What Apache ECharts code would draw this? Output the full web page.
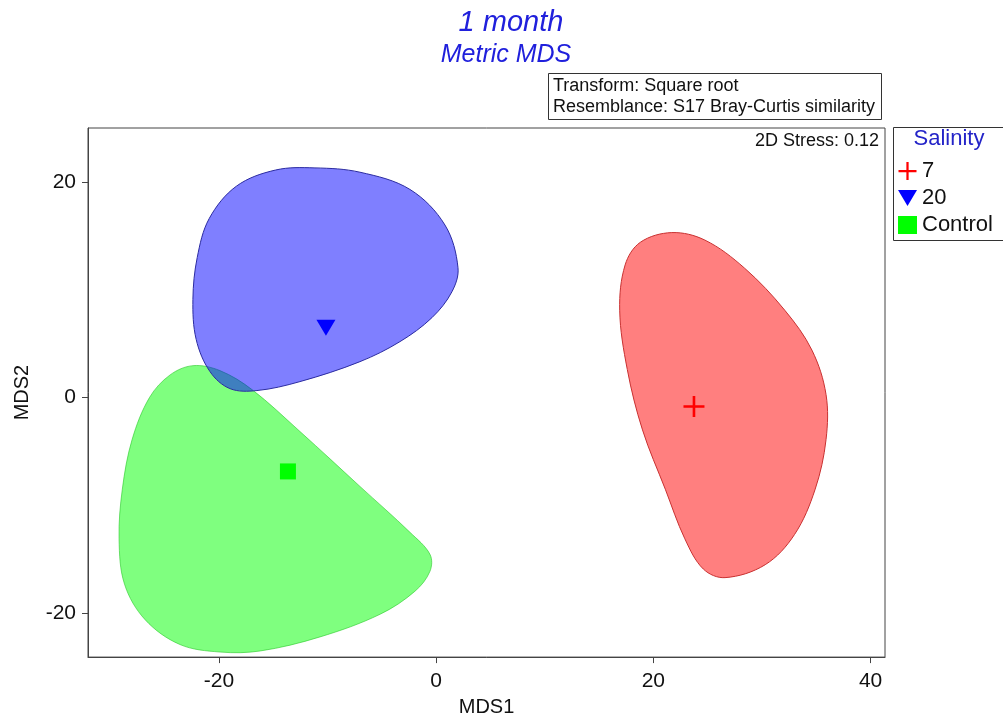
<!DOCTYPE html>
<html>
<head>
<meta charset="utf-8">
<script src="https://cdn.jsdelivr.net/npm/echarts@6/dist/echarts.min.js"></script>
<style>html,body{margin:0;padding:0;background:#fff}#c{width:1003px;height:722px}</style>
</head>
<body>
<div id="c"></div>
<script>
// ---- data ----
const groupNames = ['7', '20', 'Control'];
const centroid7 = [[23.74, -0.83]];
const centroid20 = [[-10.15, 6.48]];
const centroidControl = [[-13.65, -6.85]];
// hull outlines (MDS1, MDS2)
const hull7 = [[21.7,15.3],[24.75,14.6],[28.4,12.0],[32.1,8.1],[34.6,4.4],[35.9,0.28],[35.9,-3.9],[34.9,-8.5],[33.0,-12.7],[30.3,-15.5],[26.6,-16.7],[24.6,-15.9],[22.9,-13.1],[21.1,-8.5],[19.0,-3.0],[17.6,2.6],[16.9,8.1],[17.4,12.3],[18.8,14.4]];
const hull20 = [[-11.16,21.3],[-7.02,20.9],[-2.41,19.3],[0.81,16.0],[2.01,12.04],[1.45,9.81],[-0.39,7.41],[-3.33,5.19],[-7.02,3.33],[-12.54,1.48],[-16.5,0.65],[-18.99,0.83],[-20.83,2.41],[-22.1,5.4],[-22.4,9.1],[-22.0,13.0],[-20.9,16.6],[-18.4,19.6],[-14.8,21.1]];
const hullControl = [[-22.39,2.96],[-19.91,2.5],[-16.96,0.74],[-12.54,-3.15],[-7.02,-8.24],[-2.41,-12.5],[-0.57,-14.54],[-0.57,-16.11],[-1.95,-17.96],[-5.17,-20.1],[-10.7,-22.2],[-16.2,-23.5],[-19.9,-23.6],[-23.6,-22.9],[-26.8,-20.6],[-28.7,-17.3],[-29.2,-13.1],[-28.9,-8.5],[-28.0,-3.9],[-26.4,0.0],[-24.5,2.1]];
const xTicks = [-20, 0, 20, 40];
const yTicks = [-20, 0, 20];
const xRange = [-32.06, 41.33];
const yRange = [-24.07, 25.0];

const FONT = 'Liberation Sans, Arial, sans-serif';
const chart = echarts.init(document.getElementById('c'), null, {renderer: 'canvas'});

function hullSeries(pts, fill, stroke) {
  return {
    type: 'custom', data: pts, silent: true, z: 1,
    encode: {x: 0, y: 1},
    renderItem: function (params, api) {
      if (params.dataIndex !== 0) return;
      const points = pts.map(p => api.coord(p));
      return {type: 'polygon', shape: {points: points, smooth: 0.35},
              style: {fill: fill, stroke: stroke, lineWidth: 1}};
    }
  };
}

const crossPath = 'path://M7,0h2v7h7v2h-7v7h-2v-7h-7v-2h7z';
const triPath = 'path://M0,0L10,0L5,8.4Z';

chart.setOption({
  animation: false,
  title: [
    {text: '1 month', left: 506, top: 3, textAlign: 'center',
     textStyle: {fontFamily: FONT, fontSize: 29, fontStyle: 'italic', fontWeight: 'normal', color: '#2020dc'}},
    {text: 'Metric MDS', left: 501, top: 38, textAlign: 'center',
     textStyle: {fontFamily: FONT, fontSize: 25, fontStyle: 'italic', fontWeight: 'normal', color: '#2020dc'}},
    {text: 'Transform: Square root\nResemblance: S17 Bray-Curtis similarity', left: 548, top: 73,
     borderColor: '#333', borderWidth: 1, padding: [3, 7, 2, 5],
     textStyle: {fontFamily: FONT, fontSize: 18, lineHeight: 21, fontWeight: 'normal', color: '#111'}},
    {text: '2D Stress: 0.12', right: 124, top: 132, padding: 0,
     textStyle: {fontFamily: FONT, fontSize: 18, fontWeight: 'normal', color: '#111'}},
    {text: 'Salinity', left: 949, top: 128, textAlign: 'center', padding: 0,
     textStyle: {fontFamily: FONT, fontSize: 22, fontWeight: 'normal', color: '#2424c8'}}
  ],
  graphic: [
    {type: 'rect', shape: {x: 893.5, y: 127.5, width: 120, height: 113}, style: {fill: 'none', stroke: '#333', lineWidth: 1}}
  ],
  legend: {
    orient: 'vertical', left: 898, top: 160, itemWidth: 19, itemHeight: 18, itemGap: 5, padding: 0,
    textStyle: {fontFamily: FONT, fontSize: 22, color: '#111', padding: [0, 0, 0, 0]},
    data: [
      {name: groupNames[0], icon: crossPath},
      {name: groupNames[1], icon: triPath},
      {name: groupNames[2], icon: 'rect'}
    ]
  },
  grid: {left: 88, top: 128, width: 797, height: 530, show: true, borderColor: '#444', borderWidth: 1, containLabel: false},
  xAxis: {
    type: 'value', min: xRange[0], max: xRange[1],
    name: 'MDS1', nameLocation: 'middle', nameGap: 39,
    nameTextStyle: {fontFamily: FONT, fontSize: 20, color: '#111'},
    axisLine: {show: true, onZero: false, lineStyle: {color: '#444'}},
    axisTick: {show: true, length: 6, customValues: xTicks, lineStyle: {color: '#444'}},
    axisLabel: {customValues: xTicks, margin: 14, fontFamily: FONT, fontSize: 21, color: '#111'},
    splitLine: {show: false}
  },
  yAxis: {
    type: 'value', min: yRange[0], max: yRange[1],
    name: 'MDS2', nameLocation: 'middle', nameGap: 56,
    nameTextStyle: {fontFamily: FONT, fontSize: 20, color: '#111'},
    axisLine: {show: true, onZero: false, lineStyle: {color: '#444'}},
    axisTick: {show: true, length: 6, customValues: yTicks, lineStyle: {color: '#444'}},
    axisLabel: {customValues: yTicks, margin: 12, fontFamily: FONT, fontSize: 21, color: '#111'},
    splitLine: {show: false}
  },
  series: [
    hullSeries(hullControl, 'rgba(0,255,0,0.5)', 'rgba(40,200,40,0.6)'),
    hullSeries(hull20, 'rgba(0,0,255,0.5)', '#2a2aa0'),
    hullSeries(hull7, 'rgba(255,0,0,0.5)', '#c83030'),
    {type: 'scatter', name: groupNames[0], data: centroid7, symbol: crossPath, symbolSize: 21, z: 5,
     itemStyle: {color: '#ff0000', opacity: 1}},
    {type: 'scatter', name: groupNames[1], data: centroid20, symbol: triPath, symbolSize: [19, 16], z: 5,
     itemStyle: {color: '#0000ff', opacity: 1}},
    {type: 'scatter', name: groupNames[2], data: centroidControl, symbol: 'rect', symbolSize: 16, z: 5,
     itemStyle: {color: '#00ff00', opacity: 1}}
  ]
});
</script>
</body>
</html>
